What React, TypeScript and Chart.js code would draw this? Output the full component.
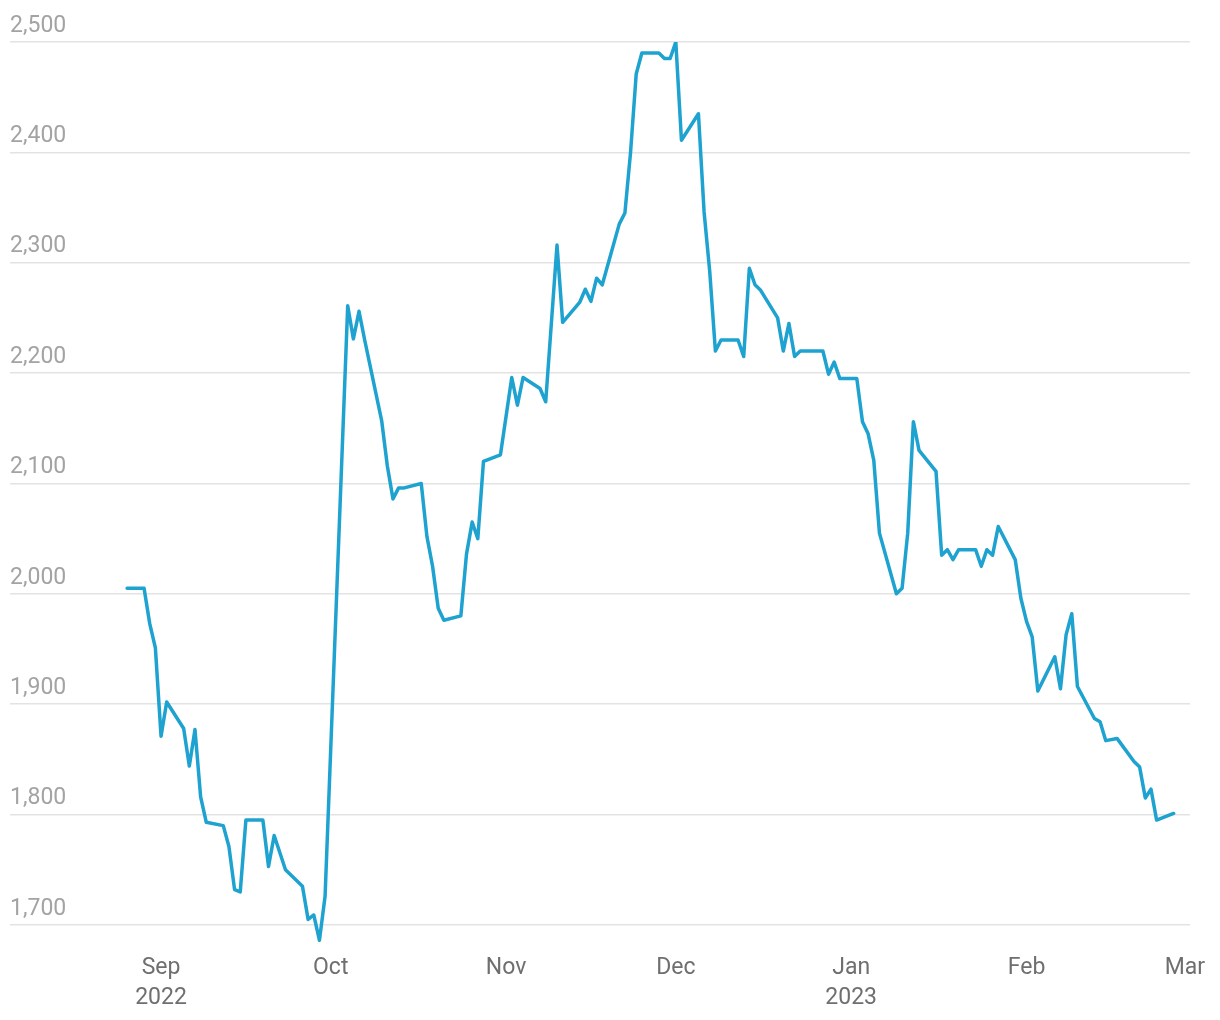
import React, { useEffect, useRef } from "react";
import { Chart, registerables } from "chart.js";

Chart.register(...registerables);

// Trading dates and closing values
const dates: string[] = [
  "2022-08-26", "2022-08-29", "2022-08-30", "2022-08-31", "2022-09-01", "2022-09-02",
  "2022-09-05", "2022-09-06", "2022-09-07", "2022-09-08", "2022-09-09", "2022-09-12",
  "2022-09-13", "2022-09-14", "2022-09-15", "2022-09-16", "2022-09-19", "2022-09-20",
  "2022-09-21", "2022-09-23", "2022-09-26", "2022-09-27", "2022-09-28", "2022-09-29",
  "2022-09-30", "2022-10-04", "2022-10-05", "2022-10-06", "2022-10-07", "2022-10-10",
  "2022-10-11", "2022-10-12", "2022-10-13", "2022-10-14", "2022-10-17", "2022-10-18",
  "2022-10-19", "2022-10-20", "2022-10-21", "2022-10-24", "2022-10-25", "2022-10-26",
  "2022-10-27", "2022-10-28", "2022-10-31", "2022-11-02", "2022-11-03", "2022-11-04",
  "2022-11-07", "2022-11-08", "2022-11-10", "2022-11-11", "2022-11-14", "2022-11-15",
  "2022-11-16", "2022-11-17", "2022-11-18", "2022-11-21", "2022-11-22", "2022-11-23",
  "2022-11-24", "2022-11-25", "2022-11-28", "2022-11-29", "2022-11-30", "2022-12-01",
  "2022-12-02", "2022-12-05", "2022-12-06", "2022-12-07", "2022-12-08", "2022-12-09",
  "2022-12-12", "2022-12-13", "2022-12-14", "2022-12-15", "2022-12-16", "2022-12-19",
  "2022-12-20", "2022-12-21", "2022-12-22", "2022-12-23", "2022-12-27", "2022-12-28",
  "2022-12-29", "2022-12-30", "2023-01-02", "2023-01-03", "2023-01-04", "2023-01-05",
  "2023-01-06", "2023-01-09", "2023-01-10", "2023-01-11", "2023-01-12", "2023-01-13",
  "2023-01-16", "2023-01-17", "2023-01-18", "2023-01-19", "2023-01-20", "2023-01-23",
  "2023-01-24", "2023-01-25", "2023-01-26", "2023-01-27", "2023-01-30", "2023-01-31",
  "2023-02-01", "2023-02-02", "2023-02-03", "2023-02-06", "2023-02-07", "2023-02-08",
  "2023-02-09", "2023-02-10", "2023-02-13", "2023-02-14", "2023-02-15", "2023-02-17",
  "2023-02-20", "2023-02-21", "2023-02-22", "2023-02-23", "2023-02-24", "2023-02-27",
];

const values: number[] = [
  2005, 2005, 1973, 1951, 1871, 1902,
  1878, 1844, 1877, 1816, 1793, 1790,
  1771, 1732, 1730, 1795, 1795, 1753,
  1781, 1750, 1735, 1705, 1709, 1686,
  1726, 2261, 2231, 2256, 2230, 2157,
  2116, 2086, 2096, 2096, 2100, 2052,
  2025, 1987, 1976, 1980, 2036, 2065,
  2050, 2120, 2126, 2196, 2171, 2196,
  2186, 2174, 2316, 2246, 2264, 2276,
  2265, 2286, 2280, 2335, 2345, 2400,
  2471, 2490, 2490, 2485, 2485, 2500,
  2411, 2435, 2346, 2292, 2220, 2230,
  2230, 2215, 2295, 2280, 2275, 2250,
  2220, 2245, 2215, 2220, 2220, 2199,
  2210, 2195, 2195, 2156, 2145, 2121,
  2055, 2000, 2005, 2055, 2156, 2130,
  2111, 2035, 2040, 2031, 2040, 2040,
  2025, 2040, 2035, 2061, 2031, 1996,
  1975, 1961, 1912, 1943, 1914, 1963,
  1982, 1916, 1887, 1884, 1867, 1869,
  1848, 1843, 1815, 1823, 1795, 1801,
];

// X-axis month ticks
const monthTickDates: string[] = [
  "2022-09-01", "2022-10-01", "2022-11-01", "2022-12-01", "2023-01-01", "2023-02-01", "2023-03-01",
];
const monthTickLabels: (string | string[])[] = [
  ["Sep", "2022"], "Oct", "Nov", "Dec", ["Jan", "2023"], "Feb", "Mar",
];

// Y-axis ticks
const yTickValues: number[] = [1700, 1800, 1900, 2000, 2100, 2200, 2300, 2400, 2500];

const ORIGIN = Date.UTC(2022, 8, 1);
const toDay = (s: string) => {
  const [y, m, d] = s.split("-").map(Number);
  return (Date.UTC(y, m - 1, d) - ORIGIN) / 86400000;
};

export default function App() {
  const ref = useRef<HTMLCanvasElement | null>(null);

  useEffect(() => {
    if (!ref.current) return;
    const monthDays = monthTickDates.map(toDay);
    const points = dates.map((d, i) => ({ x: toDay(d), y: values[i] }));

    const chart = new Chart(ref.current, {
      type: "line",
      data: {
        datasets: [
          {
            data: points,
            borderColor: "#1ea2d0",
            borderWidth: 3.5,
            borderJoinStyle: "round",
            borderCapStyle: "round",
            pointRadius: 0,
            tension: 0,
            fill: false,
          },
        ],
      },
      options: {
        animation: false,
        responsive: false,
        maintainAspectRatio: false,
        layout: { padding: { left: 10, right: 30, top: 42, bottom: 0 } },
        plugins: { legend: { display: false }, tooltip: { enabled: false } },
        scales: {
          x: {
            type: "linear",
            min: -26.7,
            max: 181.9,
            grid: { display: false, drawTicks: false },
            border: { display: false },
            afterBuildTicks: (scale: any) => {
              scale.ticks = monthDays.map((v) => ({ value: v }));
            },
            afterFit: (scale: any) => {
              scale.height = 73;
            },
            ticks: {
              autoSkip: false,
              maxRotation: 0,
              padding: 6,
              color: "#6f6f6f",
              font: { family: "Roboto", size: 23, lineHeight: 1.3 },
              callback: (v: any) => {
                const idx = monthDays.findIndex((d) => Math.abs(d - Number(v)) < 0.01);
                return idx >= 0 ? monthTickLabels[idx] : "";
              },
            },
          },
          y: {
            min: 1680,
            max: 2500,
            grid: { color: "#e3e3e3", lineWidth: 1.5, drawTicks: false },
            border: { display: false },
            afterBuildTicks: (scale: any) => {
              scale.ticks = yTickValues.map((v) => ({ value: v }));
            },
            ticks: {
              mirror: true,
              padding: 0,
              labelOffset: -16,
              color: "#a3a3a3",
              font: { family: "Roboto", size: 23 },
              callback: (v: any) => Number(v).toLocaleString("en-US"),
            },
          },
        },
      },
    });
    return () => chart.destroy();
  }, []);

  return (
    <div style={{ position: "absolute", left: 0, top: 0, width: 1220, height: 1020, background: "#fff" }}>
      <canvas ref={ref} width={1220} height={1020} style={{ display: "block" }} />
    </div>
  );
}
